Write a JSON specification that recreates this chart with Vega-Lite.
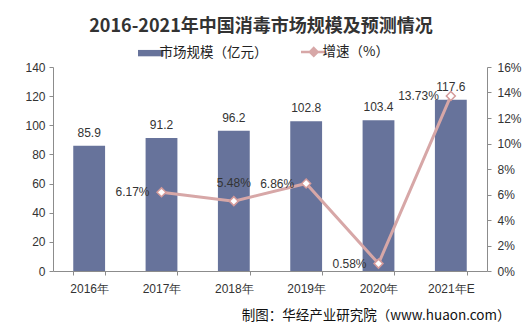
{
  "$schema": "https://vega.github.io/schema/vega-lite/v6.json",
  "autosize": {"type": "none"},
  "width": 434,
  "height": 204,
  "padding": {"left": 53, "top": 67, "right": 45, "bottom": 63},
  "background": "white",
  "title": {
    "text": "2016-2021年中国消毒市场规模及预测情况",
    "font": "Noto Sans CJK SC",
    "fontSize": 18,
    "fontWeight": "bold",
    "color": "#333333",
    "anchor": "middle",
    "offset": 9,
    "dx": -9
  },
  "config": {
    "view": {"stroke": null},
    "font": "Liberation Sans",
    "axis": {"grid": false, "domainColor": "#8c8c8c", "tickColor": "#8c8c8c", "labelColor": "#333333", "labelFontSize": 12, "labelFont": "Liberation Sans", "tickSize": 4, "labelOverlap": false, "labelFlush": false}
  },
  "data": {
    "values": [
      {"year": "2016年", "size": 85.9, "growth": null, "glabel": ""},
      {"year": "2017年", "size": 91.2, "growth": 0.0617, "glabel": "6.17%"},
      {"year": "2018年", "size": 96.2, "growth": 0.0548, "glabel": "5.48%"},
      {"year": "2019年", "size": 102.8, "growth": 0.0686, "glabel": "6.86%"},
      {"year": "2020年", "size": 103.4, "growth": 0.0058, "glabel": "0.58%"},
      {"year": "2021年E", "size": 117.6, "growth": 0.1373, "glabel": "13.73%"}
    ]
  },
  "encoding": {
    "x": {
      "field": "year",
      "type": "ordinal",
      "sort": null,
      "scale": {"paddingInner": 0.56, "paddingOuter": 0.28},
      "axis": {
        "labelAngle": 0,
        "tickBand": "extent",
        "labelPadding": 8,
        "title": "制图：华经产业研究院（www.huaon.com）",
        "titleFont": "Noto Sans CJK SC",
        "titleFontSize": 13.5,
        "titleFontWeight": "normal",
        "titleColor": "#111111",
        "titleAnchor": "end",
        "titleAlign": "right",
        "titleX": 457,
        "titlePadding": 14
      }
    }
  },
  "layer": [
    {
      "layer": [
        {
          "mark": {"type": "bar", "color": "#67739b"},
          "encoding": {
            "y": {
              "field": "size",
              "type": "quantitative",
              "scale": {"domain": [0, 140], "nice": false},
              "axis": {"values": [0, 20, 40, 60, 80, 100, 120, 140], "title": null, "labelPadding": 4, "labelOverlap": false, "labelFlush": false, "tickCount": 8}
            },
            "color": {
              "datum": "市场规模（亿元）",
              "type": "nominal",
              "scale": {"domain": ["市场规模（亿元）", "增速（%）"], "range": ["#67739b", "#d7a7a7"]},
              "legend": {
                "title": null,
                "orient": "none",
                "direction": "horizontal",
                "legendX": 91,
                "legendY": -22,
                "labelFont": "Noto Sans CJK SC",
                "labelFontSize": 13.5,
                "labelColor": "#222222",
                "symbolSize": 650,
                "labelOffset": 2,
                "columnPadding": 28,
                "encode": {
                  "symbols": {
                    "update": {
                      "shape": {"signal": "datum.value === '增速（%）' ? 'M-1,0H-0.3M0.3,0H1M0,-0.3L0.3,0L0,0.3L-0.3,0Z' : 'M-1,-0.25H1V0.25H-1Z'"},
                      "fill": {"signal": "datum.value === '增速（%）' ? '#ffffff' : '#67739b'"},
                      "stroke": {"signal": "datum.value === '增速（%）' ? '#d7a7a7' : '#67739b'"},
                      "strokeWidth": {"signal": "datum.value === '增速（%）' ? 2.5 : 0"},
                      "opacity": {"value": 1},
                      "fillOpacity": {"value": 1}
                    }
                  }
                }
              }
            }
          }
        },
        {
          "mark": {"type": "text", "dy": -13, "fontSize": 12, "color": "#333333", "font": "Liberation Sans"},
          "encoding": {
            "y": {"field": "size", "type": "quantitative"},
            "text": {"field": "size", "type": "quantitative", "format": ".1f"}
          }
        }
      ]
    },
    {
      "transform": [{"filter": "datum.growth != null"}],
      "layer": [
        {
          "mark": {"type": "line", "strokeWidth": 3},
          "encoding": {
            "y": {
              "field": "growth",
              "type": "quantitative",
              "scale": {"domain": [0, 0.16], "nice": false},
              "axis": {"orient": "right", "values": [0, 0.02, 0.04, 0.06, 0.08, 0.1, 0.12, 0.14, 0.16], "format": ".0%", "title": null, "labelPadding": 6, "labelOverlap": false, "labelFlush": false, "tickCount": 9}
            },
            "color": {"datum": "增速（%）", "type": "nominal"}
          }
        },
        {
          "mark": {"type": "point", "shape": "diamond", "filled": true, "fill": "white", "stroke": "#d49a9a", "strokeWidth": 1.5, "size": 80, "opacity": 1},
          "encoding": {"y": {"field": "growth", "type": "quantitative"}}
        },
        {
          "transform": [{"filter": "datum.year !== '2018年'"}],
          "mark": {"type": "text", "align": "right", "dx": -12, "fontSize": 12, "color": "#333333", "font": "Liberation Sans"},
          "encoding": {
            "y": {"field": "growth", "type": "quantitative"},
            "text": {"field": "glabel"}
          }
        },
        {
          "transform": [{"filter": "datum.year === '2018年'"}],
          "mark": {"type": "text", "dy": -18, "fontSize": 12, "color": "#333333", "font": "Liberation Sans"},
          "encoding": {
            "y": {"field": "growth", "type": "quantitative"},
            "text": {"field": "glabel"}
          }
        }
      ]
    }
  ],
  "resolve": {"scale": {"y": "independent"}}
}
